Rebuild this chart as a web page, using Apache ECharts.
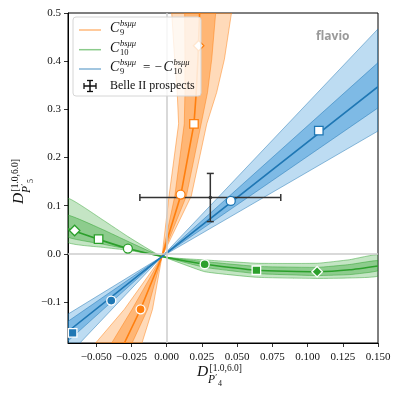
<!DOCTYPE html>
<html>
<head>
<meta charset="UTF-8">
<title>flavio P4' vs P5'</title>
<script src="https://cdn.jsdelivr.net/npm/echarts@6/dist/echarts.min.js"></script>
<style>html,body{margin:0;padding:0;background:#fff}#chart{width:399px;height:399px}</style>
</head>
<body>
<div id="chart"></div>
<script>
// C9 band: x values read at fixed y levels
const c9Y   = [-0.185, -0.115, -0.0055, 0.12, 0.27, 0.335, 0.404, 0.5];
const c9Mid = [-0.030, -0.0185, -0.0033, 0.0099, 0.0194, 0.021, 0.0222, 0.0234];
const c9Lo1 = [-0.039, -0.0245, -0.0033, 0.0058, 0.0125, 0.0130, 0.0130, 0.0128];
const c9Hi1 = [-0.0245, -0.0135, -0.0033, 0.014, 0.0245, 0.029, 0.032, 0.0348];
const c9Lo2 = [-0.0504, -0.030, -0.0033, 0.0017, 0.0085, 0.0075, 0.0057, 0.0036];
const c9Hi2 = [-0.0175, -0.010, -0.0033, 0.0175, 0.0285, 0.0355, 0.041, 0.046];

// C10 band: y values read at fixed x levels
const c10X   = [-0.07, -0.045, -0.0275, -0.0033, 0.027, 0.064, 0.107, 0.13, 0.15];
const c10Mid = [0.052, 0.027, 0.011, -0.0055, -0.0215, -0.034, -0.037, -0.033, -0.025];
const c10Lo1 = [0.035, 0.020, 0.010, -0.0055, -0.028, -0.041, -0.045, -0.043, -0.035];
const c10Hi1 = [0.080, 0.050, 0.026, -0.0055, -0.016, -0.026, -0.028, -0.022, -0.014];
const c10Lo2 = [0.024, 0.0135, 0.0075, -0.0055, -0.037, -0.0486, -0.051, -0.050, -0.046];
const c10Hi2 = [0.115, 0.070, 0.036, -0.0055, -0.0125, -0.0195, -0.0195, -0.012, -0.002];

// C9 = -C10 band
const c9mX   = [-0.07, -0.0033, 0.15];
const c9mMid = [-0.161, -0.0055, 0.347];
const c9mLo1 = [-0.181, -0.0055, 0.303];
const c9mHi1 = [-0.140, -0.0055, 0.397];
const c9mLo2 = [-0.211, -0.0055, 0.255];
const c9mHi2 = [-0.125, -0.0055, 0.467];

// benchmark points: [x, y, symbol, filled]
const c9Marks  = [[0.0099, 0.123, 'circle', false], [0.0194, 0.270, 'rect', false], [0.0227, 0.432, 'diamond', false], [-0.0185, -0.115, 'circle', true]];
const c10Marks = [[-0.0653, 0.0485, 'diamond', false], [-0.0483, 0.0305, 'rect', false], [-0.0275, 0.011, 'circle', false],
                  [0.027, -0.0215, 'circle', true], [0.0637, -0.034, 'rect', true], [0.1068, -0.037, 'diamond', true]];
const c9mMarks = [[0.0455, 0.110, 'circle', false], [0.108, 0.256, 'rect', false], [-0.0393, -0.097, 'circle', true], [-0.0667, -0.164, 'rect', true]];

// Belle II prospect
const belle = [0.031, 0.117, 0.05, 0.05];

const xTicks = [-0.05, -0.025, 0, 0.025, 0.05, 0.075, 0.1, 0.125, 0.15];
const yTicks = [-0.1, 0, 0.1, 0.2, 0.3, 0.4, 0.5];

const ORANGE = '#ff7f0e', GREEN = '#2ca02c', BLUE = '#1f77b4';

function ptsAtY(xs, ys) { return xs.map((x, i) => [x, ys[i]]); }
function ptsAtX(xs, ys) { return xs.map((x, i) => [x, ys[i]]); }

function clipOf(params) {
  const c = params.coordSys;
  return {type: 'rect', shape: {x: c.x, y: c.y, width: c.width, height: c.height}};
}

function band(lo, hi, fill, stroke, smooth, z) {
  return {
    type: 'custom', silent: true, z: z, data: [[0, 0]],
    renderItem: function (params, api) {
      const pts = hi.concat(lo.slice().reverse()).map(p => api.coord(p));
      return {type: 'polygon', shape: {points: pts, smooth: smooth},
        style: {fill: fill, stroke: stroke, lineWidth: 0.8}, clipPath: clipOf(params)};
    }
  };
}

function curve(pts, color, smooth, z) {
  return {
    type: 'custom', silent: true, z: z, data: [[0, 0]],
    renderItem: function (params, api) {
      return {type: 'polyline', shape: {points: pts.map(p => api.coord(p)), smooth: smooth},
        style: {fill: null, stroke: color, lineWidth: 1.6}, clipPath: clipOf(params)};
    }
  };
}

function marks(list, color) {
  return {
    type: 'scatter', z: 10, silent: true,
    data: list.map(m => ({
      value: [m[0], m[1]], symbol: m[2],
      symbolSize: m[2] === 'diamond' ? 10.5 : (m[2] === 'rect' ? 8.5 : 9),
      itemStyle: m[3] ? {color: color, borderColor: '#fff', borderWidth: 1.3, opacity: 1}
                      : {color: '#fff', borderColor: color, borderWidth: 1.3, opacity: 1}
    }))
  };
}

const series = [
  {
    type: 'line', data: [], z: 1, silent: true,
    markLine: {silent: true, symbol: 'none', label: {show: false},
      lineStyle: {color: '#cccccc', width: 1.5, type: 'solid'},
      data: [{xAxis: 0}, {yAxis: 0}]}
  },
  band(ptsAtY(c9Lo2, c9Y), ptsAtY(c9Hi2, c9Y), 'rgba(255,127,14,0.29)', 'rgba(255,127,14,0.6)', 0, 2),
  band(ptsAtY(c9Lo1, c9Y), ptsAtY(c9Hi1, c9Y), 'rgba(255,127,14,0.4)', 'rgba(255,127,14,0.6)', 0, 2),
  curve(ptsAtY(c9Mid, c9Y), ORANGE, 0, 2),
  band(ptsAtX(c10X, c10Lo2), ptsAtX(c10X, c10Hi2), 'rgba(44,160,44,0.28)', 'rgba(44,160,44,0.6)', 0.12, 3),
  band(ptsAtX(c10X, c10Lo1), ptsAtX(c10X, c10Hi1), 'rgba(44,160,44,0.36)', 'rgba(44,160,44,0.6)', 0.12, 3),
  curve(ptsAtX(c10X, c10Mid), GREEN, 0.15, 3),
  band(ptsAtX(c9mX, c9mLo2), ptsAtX(c9mX, c9mHi2), 'rgba(38,138,212,0.3)', 'rgba(31,119,180,0.6)', 0, 4),
  band(ptsAtX(c9mX, c9mLo1), ptsAtX(c9mX, c9mHi1), 'rgba(38,138,212,0.42)', 'rgba(31,119,180,0.6)', 0, 4),
  curve(ptsAtX(c9mX, c9mMid), BLUE, 0, 4),
  {
    type: 'custom', silent: true, z: 8, data: [belle],
    renderItem: function (params, api) {
      const x = api.value(0), y = api.value(1), ex = api.value(2), ey = api.value(3);
      const c = api.coord([x, y]), l = api.coord([x - ex, y]), r = api.coord([x + ex, y]);
      const t = api.coord([x, y + ey]), b = api.coord([x, y - ey]);
      const st = {stroke: '#333', lineWidth: 1.5};
      const seg = (x1, y1, x2, y2) => ({type: 'line', shape: {x1, y1, x2, y2}, style: st});
      return {type: 'group', children: [
        seg(l[0], l[1], r[0], r[1]), seg(t[0], t[1], b[0], b[1]),
        seg(l[0], l[1] - 3.5, l[0], l[1] + 3.5), seg(r[0], r[1] - 3.5, r[0], r[1] + 3.5),
        seg(t[0] - 3.5, t[1], t[0] + 3.5, t[1]), seg(b[0] - 3.5, b[1], b[0] + 3.5, b[1]),
        {type: 'circle', shape: {cx: c[0], cy: c[1], r: 1.8}, style: {fill: '#333'}}
      ]};
    }
  },
  marks(c9Marks, ORANGE),
  marks(c10Marks, GREEN),
  marks(c9mMarks, BLUE)
];

const SERIF = '"Liberation Serif", "DejaVu Serif", serif';
function txt(x, y, s, size, italic, extra) {
  return Object.assign({type: 'text', x: x, y: y, z: 100, silent: true,
    style: {text: s, fill: '#111', font: (italic ? 'italic ' : '') + size + 'px ' + SERIF,
      verticalAlign: 'middle', align: 'left'}}, extra || {});
}

// legend
const LEG_Y = [30, 49.7, 69];
const legend = [
  {type: 'rect', z: 99, silent: true, shape: {x: 73, y: 17, width: 128, height: 79, r: 3},
    style: {fill: 'rgba(255,255,255,0.8)', stroke: '#d6d6d6', lineWidth: 1}},
  {type: 'line', z: 100, shape: {x1: 79, y1: LEG_Y[0], x2: 101, y2: LEG_Y[0]}, style: {stroke: 'rgba(255,127,14,0.55)', lineWidth: 1.5}},
  {type: 'line', z: 100, shape: {x1: 79, y1: LEG_Y[1], x2: 101, y2: LEG_Y[1]}, style: {stroke: 'rgba(44,160,44,0.55)', lineWidth: 1.5}},
  {type: 'line', z: 100, shape: {x1: 79, y1: LEG_Y[2], x2: 101, y2: LEG_Y[2]}, style: {stroke: 'rgba(31,119,180,0.55)', lineWidth: 1.5}},
  {type: 'line', z: 100, shape: {x1: 84, y1: 86, x2: 96, y2: 86}, style: {stroke: '#111', lineWidth: 1.5}},
  {type: 'line', z: 100, shape: {x1: 90, y1: 80.5, x2: 90, y2: 91.5}, style: {stroke: '#111', lineWidth: 1.5}},
  {type: 'line', z: 100, shape: {x1: 84, y1: 83, x2: 84, y2: 89}, style: {stroke: '#111', lineWidth: 1.3}},
  {type: 'line', z: 100, shape: {x1: 96, y1: 83, x2: 96, y2: 89}, style: {stroke: '#111', lineWidth: 1.3}},
  {type: 'line', z: 100, shape: {x1: 87, y1: 80.5, x2: 93, y2: 80.5}, style: {stroke: '#111', lineWidth: 1.3}},
  {type: 'line', z: 100, shape: {x1: 87, y1: 91.5, x2: 93, y2: 91.5}, style: {stroke: '#111', lineWidth: 1.3}},
  // C9
  txt(110, 28.5, 'C', 14, true), txt(120, 24, 'bsμμ', 8.5, true), txt(120, 33, '9', 8.5, false),
  // C10
  txt(110, 48, 'C', 14, true), txt(120, 43.5, 'bsμμ', 8.5, true), txt(120, 52.5, '10', 8.5, false),
  // C9 = -C10
  txt(110, 67.5, 'C', 14, true), txt(120, 63, 'bsμμ', 8.5, true), txt(120, 72, '9', 8.5, false),
  txt(143, 67.5, '=', 13, false), txt(154.5, 67.5, '−', 13, false),
  txt(163.5, 67.5, 'C', 14, true), txt(173.5, 63, 'bsμμ', 8.5, true), txt(173.5, 72, '10', 8.5, false),
  txt(110, 86, 'Belle II prospects', 12, false)
];

// axis titles as math text
function dLabel(sub) {
  return [
    txt(0, 0, 'D', 15.5, true),
    txt(12.5, -4, '[1.0,6.0]', 9.5, false),
    txt(11, 8, 'P', 11.5, true),
    txt(18.3, 5.5, '′', 9, false),
    txt(21, 11.5, sub, 8, false)
  ];
}
const axisTitles = [
  {type: 'group', x: 197, y: 372, children: dLabel('4')},
  {type: 'group', x: 19, y: 204, rotation: Math.PI / 2, children: dLabel('5')},
  {type: 'text', x: 316, y: 37, z: 100, silent: true,
    style: {text: 'flavio', fill: '#9a9a9a', font: 'bold 12px "Open Sans", "DejaVu Sans", sans-serif', verticalAlign: 'middle'}}
];

const fmt = d => v => (v < -1e-12 ? '−' : '') + Math.abs(v).toFixed(d);

const axisCommon = {
  type: 'value', splitLine: {show: false},
  axisLine: {show: true, onZero: false, lineStyle: {color: '#000', width: 1}},
  axisTick: {show: true, inside: false, length: 4, lineStyle: {color: '#000', width: 0.8}},
};

const option = {
  animation: false,
  backgroundColor: '#fff',
  grid: {left: 68, right: 21, top: 13, bottom: 56, show: true, borderColor: '#000', borderWidth: 1,
    backgroundColor: 'transparent', containLabel: false, outerBoundsMode: 'none'},
  xAxis: Object.assign({}, axisCommon, {
    min: -0.07, max: 0.15,
    axisTick: Object.assign({}, axisCommon.axisTick, {customValues: xTicks}),
    axisLabel: {customValues: xTicks, formatter: fmt(3), color: '#111', fontSize: 11, fontFamily: SERIF, margin: 9}
  }),
  yAxis: Object.assign({}, axisCommon, {
    min: -0.185, max: 0.5,
    axisTick: Object.assign({}, axisCommon.axisTick, {customValues: yTicks}),
    axisLabel: {customValues: yTicks, formatter: fmt(1), color: '#111', fontSize: 11, fontFamily: SERIF, margin: 7}
  }),
  graphic: {elements: legend.concat(axisTitles)},
  series: series
};

const chart = echarts.init(document.getElementById('chart'), null, {renderer: 'canvas'});
chart.setOption(option);
</script>
</body>
</html>
